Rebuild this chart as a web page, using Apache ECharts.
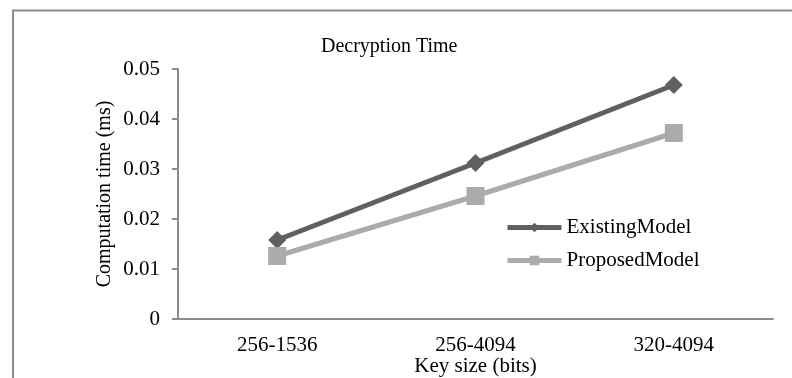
<!DOCTYPE html>
<html>
<head>
<meta charset="utf-8">
<script src="https://cdn.jsdelivr.net/npm/echarts@6/dist/echarts.min.js"></script>
<style>html,body{margin:0;padding:0;background:#fff}#c{width:792px;height:378px}</style>
</head>
<body>
<div id="c"></div>
<script>
const categories = ['256-1536', '256-4094', '320-4094'];
const existingModel = [0.0158, 0.0312, 0.0468];
const proposedModel = [0.0126, 0.0246, 0.0372];
const yTicks = { min: 0, max: 0.05, interval: 0.01 };

const FONT = '"Liberation Serif", "Times New Roman", serif';
const chart = echarts.init(document.getElementById('c'), null, { renderer: 'canvas' });
chart.setOption({
  animation: false,
  backgroundColor: '#fff',
  graphic: [{
    type: 'rect', shape: { x: 13, y: 10.5, width: 900, height: 500 },
    style: { fill: 'none', stroke: '#8c8c8c', lineWidth: 2 }, silent: true
  }],
  title: {
    text: 'Decryption Time', left: 321, top: 37, padding: 0,
    textStyle: { fontFamily: FONT, fontSize: 20, fontWeight: 'normal', color: '#000' }
  },
  legend: {
    orient: 'vertical', left: 505, top: 217, padding: 0,
    itemWidth: 54, itemHeight: 12, itemGap: 12,
    lineStyle: { width: 5 },
    textStyle: { fontFamily: FONT, fontSize: 21, color: '#000' },
    data: ['ExistingModel', 'ProposedModel']
  },
  grid: { left: 178, right: 19, top: 69, bottom: 59, containLabel: false, outerBoundsMode: 'none' },
  xAxis: {
    type: 'category', data: categories, boundaryGap: true,
    name: 'Key size (bits)', nameLocation: 'middle', nameGap: 37, nameMoveOverlap: false,
    nameTextStyle: { fontFamily: FONT, fontSize: 21, color: '#000' },
    axisLine: { lineStyle: { color: '#8c8c8c', width: 2 } },
    axisTick: { show: false },
    axisLabel: { fontFamily: FONT, fontSize: 21, color: '#000', margin: 16 },
    splitLine: { show: false }
  },
  yAxis: {
    type: 'value', min: yTicks.min, max: yTicks.max, interval: yTicks.interval,
    name: 'Computation time (ms)', nameLocation: 'middle', nameGap: 63, nameMoveOverlap: false,
    nameTextStyle: { fontFamily: FONT, fontSize: 20, color: '#000' },
    axisLine: { show: true, lineStyle: { color: '#8c8c8c', width: 2 } },
    axisTick: { show: true, length: 6, lineStyle: { color: '#8c8c8c', width: 2 } },
    axisLabel: { fontFamily: FONT, fontSize: 21, color: '#000', margin: 18 },
    splitLine: { show: false }
  },
  series: [
    {
      name: 'ExistingModel', type: 'line', data: existingModel,
      symbol: 'diamond', symbolSize: 18,
      lineStyle: { color: '#606060', width: 5 },
      itemStyle: { color: '#606060' }, z: 3
    },
    {
      name: 'ProposedModel', type: 'line', data: proposedModel,
      symbol: 'rect', symbolSize: 18,
      lineStyle: { color: '#ababab', width: 5 },
      itemStyle: { color: '#ababab' }, z: 4
    }
  ]
});
</script>
</body>
</html>
